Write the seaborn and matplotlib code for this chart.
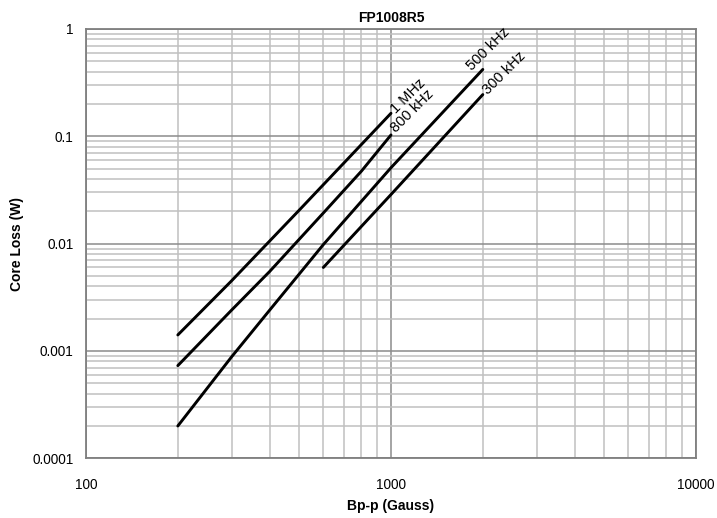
import matplotlib
matplotlib.use('Agg')
import matplotlib.pyplot as plt
from matplotlib.ticker import LogLocator, NullFormatter, FixedLocator, FixedFormatter
import pandas as pd
import seaborn as sns

# curve data (Bp-p in Gauss, core loss in W)
b_1mhz = [200, 300, 500, 1000]
p_1mhz = [0.00141, 0.0045, 0.0205, 0.164]
b_800k = [200, 300, 400, 600, 800, 1000]
p_800k = [0.00073, 0.0024, 0.0055, 0.0193, 0.0474, 0.103]
b_500k = [200, 300, 400, 600, 1000, 2000]
p_500k = [0.0002, 0.00088, 0.0024, 0.0098, 0.051, 0.42]
b_300k = [600, 1000, 2000]
p_300k = [0.006, 0.0287, 0.245]

freqs = ['1 MHz', '800 kHz', '500 kHz', '300 kHz']
x_ticks = [100, 1000, 10000]
x_tick_labels = ['100', '1000', '10000']
y_ticks = [0.0001, 0.001, 0.01, 0.1, 1]
y_tick_labels = ['0.0001', '0.001', '0.01', '0.1', '1']

rows = []
for name, bs, ps in zip(freqs, [b_1mhz, b_800k, b_500k, b_300k],
                        [p_1mhz, p_800k, p_500k, p_300k]):
    for b, p in zip(bs, ps):
        rows.append({'freq': name, 'B': b, 'P': p})
df = pd.DataFrame(rows)

sns.set_style('white')
plt.rcParams['font.family'] = ['Liberation Sans', 'DejaVu Sans']
plt.rcParams['text.color'] = 'black'
plt.rcParams['axes.labelcolor'] = 'black'
plt.rcParams['xtick.color'] = 'black'
plt.rcParams['ytick.color'] = 'black'

fig = plt.figure(figsize=(7.17, 5.18), dpi=100)
ax = fig.add_axes([86 / 717, 1 - 458.3 / 518, 610 / 717, 429.3 / 518])

sns.lineplot(data=df, x='B', y='P', hue='freq', hue_order=freqs,
             palette=['black'] * 4, linewidth=2.1, legend=False, ax=ax,
             sort=True, estimator=None)

ax.set_xscale('log')
ax.set_yscale('log')
ax.set_xlim(100, 10000)
ax.set_ylim(0.0001, 1)

ax.xaxis.set_major_locator(FixedLocator(x_ticks))
ax.xaxis.set_major_formatter(FixedFormatter(x_tick_labels))
ax.yaxis.set_major_locator(FixedLocator(y_ticks))
ax.yaxis.set_major_formatter(FixedFormatter(y_tick_labels))
ax.xaxis.set_minor_locator(LogLocator(base=10, subs=range(2, 10)))
ax.yaxis.set_minor_locator(LogLocator(base=10, subs=range(2, 10)))
ax.xaxis.set_minor_formatter(NullFormatter())
ax.yaxis.set_minor_formatter(NullFormatter())

ax.grid(which='major', color='#8c8c8c', linewidth=1.1)
ax.grid(which='minor', color='#c0c0c0', linewidth=1.1)
ax.set_axisbelow(True)
for s in ax.spines.values():
    s.set_color('#7f7f7f')
    s.set_linewidth(1.3)

ax.tick_params(which='both', length=0)
ax.tick_params(axis='x', labelsize=9.8, pad=14)
ax.tick_params(axis='y', labelsize=9.8, pad=9)

ax.set_title('FP1008R5', fontsize=10, fontweight='bold', pad=5)
ax.set_xlabel('Bp-p (Gauss)', fontsize=10, fontweight='bold', labelpad=5)
ax.set_ylabel('Core Loss (W)', fontsize=10, fontweight='bold', labelpad=6)

# curve labels at the top end of each line
label_pos = {
    '1 MHz': (b_1mhz[-1], p_1mhz[-1], 5, -2),
    '800 kHz': (b_800k[-1], p_800k[-1], 5, 0),
    '500 kHz': (b_500k[-1], p_500k[-1], -6, -3),
    '300 kHz': (b_300k[-1], p_300k[-1], 5, -2),
}
for name in freqs:
    bx, py, dx, dy = label_pos[name]
    ax.annotate(name, xy=(bx, py), xytext=(dx, dy), textcoords='offset points',
                rotation=45, rotation_mode='anchor', ha='left', va='bottom',
                fontsize=10.5)

fig.savefig('out.png', dpi=100)
